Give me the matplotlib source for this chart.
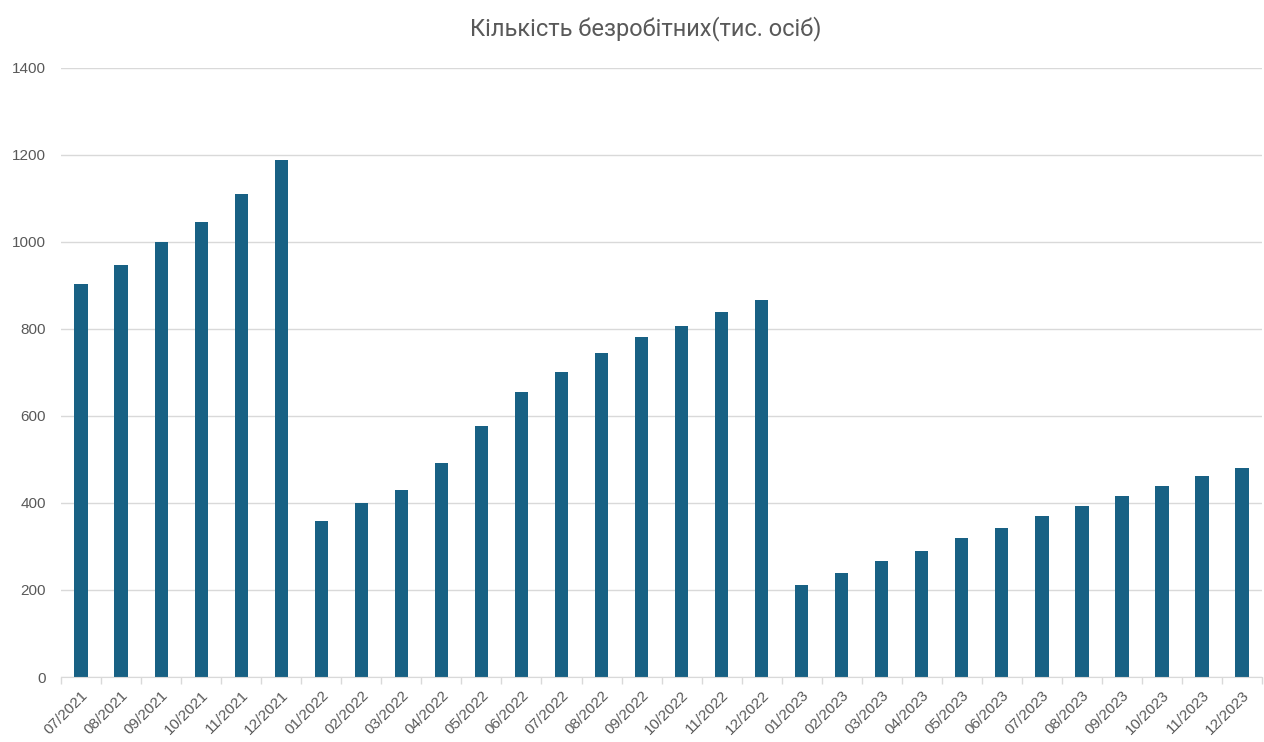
import numpy as np
import matplotlib.pyplot as plt

plt.rcParams['font.family'] = ['Liberation Sans', 'DejaVu Sans']

months = ['07/2021', '08/2021', '09/2021', '10/2021', '11/2021', '12/2021',
          '01/2022', '02/2022', '03/2022', '04/2022', '05/2022', '06/2022',
          '07/2022', '08/2022', '09/2022', '10/2022', '11/2022', '12/2022',
          '01/2023', '02/2023', '03/2023', '04/2023', '05/2023', '06/2023',
          '07/2023', '08/2023', '09/2023', '10/2023', '11/2023', '12/2023']
unemployed = [903, 947, 1000, 1047, 1110, 1189,
              359, 401, 431, 493, 578, 654,
              700, 744, 782, 808, 840, 866,
              212, 239, 266, 289, 320, 343,
              369, 392, 416, 439, 463, 481]

bar_color = '#186184'
grid_color = '#d9d9d9'
text_color = '#595959'

fig = plt.figure(figsize=(12.64, 7.42), dpi=100)
ax = fig.add_axes([0.0483, 0.0876, 0.9502, 0.8208])

x = np.arange(len(months))
ax.bar(x, unemployed, width=0.33, color=bar_color, zorder=3)

ax.set_xlim(-0.5, len(months) - 0.5)
ax.set_ylim(0, 1400)
ax.set_yticks(np.arange(0, 1401, 200))
ax.yaxis.grid(True, color=grid_color, linewidth=1, zorder=0)
ax.tick_params(axis='y', length=0, labelsize=11, labelcolor=text_color, pad=11)

# category boundaries as tick marks, labels centred under the bars
ax.set_xticks(np.arange(-0.5, len(months), 1.0))
ax.set_xticklabels([])
ax.set_xticks(x, minor=True)
ax.set_xticklabels(months, minor=True, rotation=45, ha='right',
                   rotation_mode='anchor', fontsize=11, color=text_color)
ax.tick_params(axis='x', which='major', length=5, color=grid_color, width=1)
ax.tick_params(axis='x', which='minor', length=0, pad=8)

for side in ['top', 'right', 'left']:
    ax.spines[side].set_visible(False)
ax.spines['bottom'].set_color(grid_color)
ax.spines['bottom'].set_zorder(4)

fig.text(0.511, 0.962, 'Кількість безробітних(тис. осіб)', ha='center', va='center',
         fontsize=17, color=text_color, family=['Roboto', 'DejaVu Sans'])

fig.savefig('out.png', dpi=100, facecolor='white')
